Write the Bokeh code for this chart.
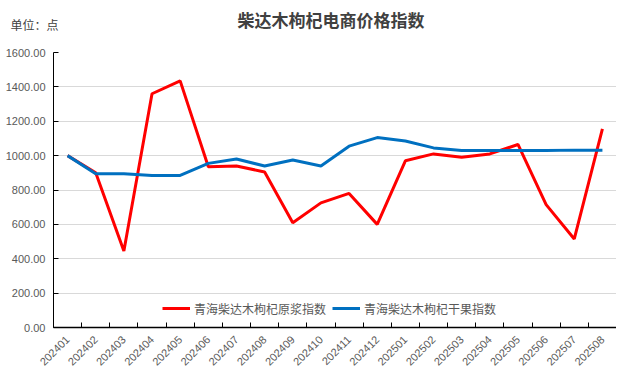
import math
from bokeh.plotting import figure
from bokeh.models import (Range1d, FixedTicker, Label, Legend, LegendItem,
                          NumeralTickFormatter, Title)
from bokeh.embed import file_html
from bokeh.resources import INLINE

# ---- data ----
months = ["202401", "202402", "202403", "202404", "202405", "202406", "202407",
          "202408", "202409", "202410", "202411", "202412", "202501", "202502",
          "202503", "202504", "202505", "202506", "202507", "202508"]
yuanjiang = [1000, 900, 445, 1360, 1435, 935, 940, 905, 610, 725,
             780, 600, 970, 1010, 990, 1010, 1065, 715, 515, 1155]
ganguo = [1000, 895, 895, 885, 885, 955, 980, 940, 975, 940,
          1055, 1105, 1085, 1045, 1030, 1030, 1030, 1030, 1032, 1032]
y_ticks = [0, 200, 400, 600, 800, 1000, 1200, 1400, 1600]
series_names = ["青海柴达木枸杞原浆指数", "青海柴达木枸杞干果指数"]
title_text = "柴达木枸杞电商价格指数"
unit_text = "单位：点"

n = len(months)
xs = [i + 0.5 for i in range(n)]
bounds = list(range(n + 1))

W, H = 616, 381
p = figure(width=W, height=H, output_backend="svg", toolbar_location=None,
           x_range=Range1d(0, n), y_range=Range1d(0, 1600),
           min_border_left=53, min_border_right=0, min_border_top=52,
           min_border_bottom=54)
p.outline_line_color = None
p.background_fill_color = "white"
p.border_fill_color = "white"

p.title = Title(text=title_text, align="left", offset=184,
                text_font="Noto Sans CJK SC",
                text_font_size="17px", text_font_style="bold",
                text_color="#404040", standoff=8)

# grid
p.xgrid.visible = False
p.ygrid.ticker = FixedTicker(ticks=y_ticks)
p.ygrid.grid_line_color = "#d9d9d9"
p.ygrid.grid_line_width = 1

# y axis
ya = p.yaxis[0]
ya.ticker = FixedTicker(ticks=y_ticks)
ya.formatter = NumeralTickFormatter(format="0.00")
ya.major_tick_in = 5
ya.major_tick_out = 0
ya.minor_tick_line_color = None
ya.axis_line_color = "black"
ya.major_tick_line_color = "black"
ya.major_label_text_font = "Liberation Sans"
ya.major_label_text_font_size = "11px"
ya.major_label_text_color = "#595959"
ya.major_label_standoff = 8

# x axis
xa = p.xaxis[0]
xa.ticker = FixedTicker(ticks=xs, minor_ticks=bounds)
xa.major_label_overrides = {x: m for x, m in zip(xs, months)}
xa.major_tick_in = 0
xa.major_tick_out = 0
xa.minor_tick_in = 5
xa.minor_tick_out = 0
xa.minor_tick_line_color = "black"
xa.axis_line_color = "black"
xa.axis_line_width = 1.5
xa.major_label_orientation = math.pi / 4
xa.major_label_text_font = "Liberation Sans"
xa.major_label_text_font_size = "11px"
xa.major_label_text_color = "#595959"
xa.major_label_standoff = 10

r1 = p.line(xs, yuanjiang, line_color="#FF0000", line_width=3)
r2 = p.line(xs, ganguo, line_color="#0070C0", line_width=3)

legend = Legend(items=[LegendItem(label=series_names[0], renderers=[r1]),
                       LegendItem(label=series_names[1], renderers=[r2])],
                orientation="horizontal", location=(109, 9),
                label_text_font="Noto Sans CJK SC", label_text_font_size="12px",
                label_text_color="#595959", glyph_width=28, glyph_height=20,
                spacing=6, padding=0, margin=0, label_standoff=4,
                border_line_alpha=0, background_fill_alpha=0)
p.add_layout(legend)

p.add_layout(Label(x=-43, y=28, x_units="screen", y_units="screen",
                   text=unit_text, text_align="left", text_baseline="middle",
                   text_font="Noto Sans CJK SC", text_font_size="12px",
                   text_color="#404040"), "above")

open("out.html", "w").write(file_html(p, INLINE))
